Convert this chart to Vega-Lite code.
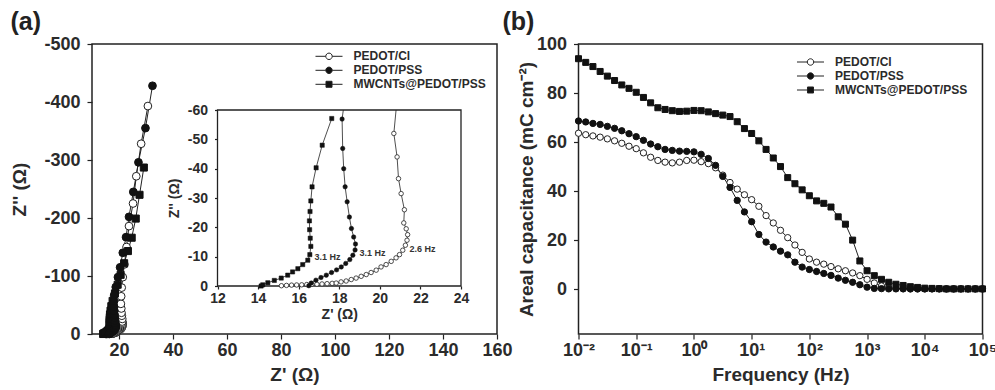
{
  "$schema": "https://vega.github.io/schema/vega-lite/v6.json",
  "autosize": {"type": "pad"},
  "padding": {"left": 9, "top": 9, "right": 0, "bottom": 0},
  "bounds": "flush",
  "spacing": 81.5,
  "resolve": {"scale": {"shape": "independent", "fill": "independent"}, "legend": {"shape": "independent", "fill": "independent"}},
  "datasets": {
    "nyq": [
      {"s":"MWCNTs@PEDOT/PSS","x":14.15,"y":0},{"s":"MWCNTs@PEDOT/PSS","x":14.23,"y":-0.4},{"s":"MWCNTs@PEDOT/PSS","x":14.48,"y":-1.1},{"s":"MWCNTs@PEDOT/PSS","x":14.8,"y":-1.9},{"s":"MWCNTs@PEDOT/PSS","x":15.14,"y":-2.7},{"s":"MWCNTs@PEDOT/PSS","x":15.46,"y":-3.7},{"s":"MWCNTs@PEDOT/PSS","x":15.7,"y":-4.8},{"s":"MWCNTs@PEDOT/PSS","x":15.96,"y":-5.9},{"s":"MWCNTs@PEDOT/PSS","x":16.2,"y":-7.3},{"s":"MWCNTs@PEDOT/PSS","x":16.45,"y":-8.8},{"s":"MWCNTs@PEDOT/PSS","x":16.55,"y":-10.7},{"s":"MWCNTs@PEDOT/PSS","x":16.6,"y":-13.5},{"s":"MWCNTs@PEDOT/PSS","x":16.57,"y":-16.3},{"s":"MWCNTs@PEDOT/PSS","x":16.54,"y":-19.2},{"s":"MWCNTs@PEDOT/PSS","x":16.53,"y":-22.2},{"s":"MWCNTs@PEDOT/PSS","x":16.56,"y":-25.4},{"s":"MWCNTs@PEDOT/PSS","x":16.6,"y":-29.0},{"s":"MWCNTs@PEDOT/PSS","x":16.66,"y":-33.8},{"s":"MWCNTs@PEDOT/PSS","x":16.86,"y":-40.3},{"s":"MWCNTs@PEDOT/PSS","x":17.16,"y":-48.0},{"s":"MWCNTs@PEDOT/PSS","x":17.63,"y":-57.1},{"s":"MWCNTs@PEDOT/PSS","x":18.5,"y":-70},{"s":"MWCNTs@PEDOT/PSS","x":19.5,"y":-85},{"s":"MWCNTs@PEDOT/PSS","x":20.6,"y":-102},{"s":"MWCNTs@PEDOT/PSS","x":21.9,"y":-122},{"s":"MWCNTs@PEDOT/PSS","x":23.3,"y":-143},{"s":"MWCNTs@PEDOT/PSS","x":24.7,"y":-166},{"s":"MWCNTs@PEDOT/PSS","x":26.2,"y":-199},{"s":"MWCNTs@PEDOT/PSS","x":27.6,"y":-240},{"s":"MWCNTs@PEDOT/PSS","x":29.2,"y":-287},
      {"s":"PEDOT/PSS","x":16.5,"y":-0.1},{"s":"PEDOT/PSS","x":16.62,"y":-1.0},{"s":"PEDOT/PSS","x":16.85,"y":-2.0},{"s":"PEDOT/PSS","x":17.1,"y":-2.9},{"s":"PEDOT/PSS","x":17.36,"y":-3.7},{"s":"PEDOT/PSS","x":17.62,"y":-4.6},{"s":"PEDOT/PSS","x":17.87,"y":-5.5},{"s":"PEDOT/PSS","x":18.1,"y":-6.5},{"s":"PEDOT/PSS","x":18.32,"y":-7.7},{"s":"PEDOT/PSS","x":18.52,"y":-9.0},{"s":"PEDOT/PSS","x":18.67,"y":-10.5},{"s":"PEDOT/PSS","x":18.78,"y":-12.3},{"s":"PEDOT/PSS","x":18.8,"y":-14.3},{"s":"PEDOT/PSS","x":18.71,"y":-16.7},{"s":"PEDOT/PSS","x":18.6,"y":-19.6},{"s":"PEDOT/PSS","x":18.5,"y":-23.5},{"s":"PEDOT/PSS","x":18.39,"y":-28.7},{"s":"PEDOT/PSS","x":18.29,"y":-33.8},{"s":"PEDOT/PSS","x":18.22,"y":-40.0},{"s":"PEDOT/PSS","x":18.17,"y":-46.9},{"s":"PEDOT/PSS","x":18.14,"y":-56.9},{"s":"PEDOT/PSS","x":18.2,"y":-67},{"s":"PEDOT/PSS","x":18.8,"y":-81},{"s":"PEDOT/PSS","x":19.6,"y":-98},{"s":"PEDOT/PSS","x":20.4,"y":-115},{"s":"PEDOT/PSS","x":21.4,"y":-140},{"s":"PEDOT/PSS","x":22.6,"y":-167},{"s":"PEDOT/PSS","x":23.7,"y":-202},{"s":"PEDOT/PSS","x":25.3,"y":-245},{"s":"PEDOT/PSS","x":27.2,"y":-296},{"s":"PEDOT/PSS","x":29.8,"y":-355},{"s":"PEDOT/PSS","x":32.4,"y":-428},
      {"s":"PEDOT/Cl","x":15.15,"y":-0.1},{"s":"PEDOT/Cl","x":15.4,"y":-0.2},{"s":"PEDOT/Cl","x":15.65,"y":-0.3},{"s":"PEDOT/Cl","x":15.9,"y":-0.35},{"s":"PEDOT/Cl","x":16.15,"y":-0.4},{"s":"PEDOT/Cl","x":16.4,"y":-0.5},{"s":"PEDOT/Cl","x":16.65,"y":-0.55},{"s":"PEDOT/Cl","x":16.9,"y":-0.6},{"s":"PEDOT/Cl","x":17.15,"y":-0.7},{"s":"PEDOT/Cl","x":17.4,"y":-0.8},{"s":"PEDOT/Cl","x":17.65,"y":-0.9},{"s":"PEDOT/Cl","x":17.85,"y":-1.0},{"s":"PEDOT/Cl","x":18.09,"y":-1.4},{"s":"PEDOT/Cl","x":18.34,"y":-1.7},{"s":"PEDOT/Cl","x":18.59,"y":-2.2},{"s":"PEDOT/Cl","x":18.83,"y":-2.7},{"s":"PEDOT/Cl","x":19.08,"y":-3.3},{"s":"PEDOT/Cl","x":19.33,"y":-3.9},{"s":"PEDOT/Cl","x":19.57,"y":-4.6},{"s":"PEDOT/Cl","x":19.82,"y":-5.4},{"s":"PEDOT/Cl","x":20.06,"y":-6.5},{"s":"PEDOT/Cl","x":20.31,"y":-7.3},{"s":"PEDOT/Cl","x":20.56,"y":-8.4},{"s":"PEDOT/Cl","x":20.8,"y":-9.6},{"s":"PEDOT/Cl","x":20.97,"y":-10.7},{"s":"PEDOT/Cl","x":21.13,"y":-12.2},{"s":"PEDOT/Cl","x":21.26,"y":-13.9},{"s":"PEDOT/Cl","x":21.34,"y":-15.6},{"s":"PEDOT/Cl","x":21.37,"y":-17.5},{"s":"PEDOT/Cl","x":21.3,"y":-19.5},{"s":"PEDOT/Cl","x":21.18,"y":-21.5},{"s":"PEDOT/Cl","x":21.21,"y":-26.0},{"s":"PEDOT/Cl","x":21.05,"y":-31.5},{"s":"PEDOT/Cl","x":20.92,"y":-36.6},{"s":"PEDOT/Cl","x":20.85,"y":-44.0},{"s":"PEDOT/Cl","x":20.69,"y":-52.0},{"s":"PEDOT/Cl","x":20.8,"y":-65},{"s":"PEDOT/Cl","x":21.0,"y":-80},{"s":"PEDOT/Cl","x":21.4,"y":-98},{"s":"PEDOT/Cl","x":22.0,"y":-120},{"s":"PEDOT/Cl","x":22.8,"y":-150},{"s":"PEDOT/Cl","x":23.7,"y":-186},{"s":"PEDOT/Cl","x":25.2,"y":-225},{"s":"PEDOT/Cl","x":26.4,"y":-272},{"s":"PEDOT/Cl","x":28.2,"y":-328},{"s":"PEDOT/Cl","x":30.7,"y":-393}
    ],
    "ann": [
      {"t":"3.1 Hz","x":16.78,"y":-9.9},
      {"t":"3.1 Hz","x":19.0,"y":-11.4},
      {"t":"2.6 Hz","x":21.46,"y":-12.7}
    ],
    "frame": [{"x":12,"x2":24,"y":0,"y2":-60}],
    "cap": [
      {"f":0.01,"PEDOT/Cl":63.6,"PEDOT/PSS":68.6,"MWCNTs@PEDOT/PSS":94.0},
      {"f":0.01334,"PEDOT/Cl":63.0,"PEDOT/PSS":68.2,"MWCNTs@PEDOT/PSS":92.5},
      {"f":0.01778,"PEDOT/Cl":62.5,"PEDOT/PSS":67.6,"MWCNTs@PEDOT/PSS":90.8},
      {"f":0.02371,"PEDOT/Cl":62.0,"PEDOT/PSS":67.2,"MWCNTs@PEDOT/PSS":88.8},
      {"f":0.03162,"PEDOT/Cl":61.3,"PEDOT/PSS":66.4,"MWCNTs@PEDOT/PSS":86.9},
      {"f":0.04217,"PEDOT/Cl":60.5,"PEDOT/PSS":65.6,"MWCNTs@PEDOT/PSS":85.1},
      {"f":0.05623,"PEDOT/Cl":59.5,"PEDOT/PSS":64.6,"MWCNTs@PEDOT/PSS":83.3},
      {"f":0.07499,"PEDOT/Cl":58.3,"PEDOT/PSS":63.4,"MWCNTs@PEDOT/PSS":81.9},
      {"f":0.1,"PEDOT/Cl":57.3,"PEDOT/PSS":62.2,"MWCNTs@PEDOT/PSS":80.3},
      {"f":0.1334,"PEDOT/Cl":55.6,"PEDOT/PSS":60.7,"MWCNTs@PEDOT/PSS":78.2},
      {"f":0.1778,"PEDOT/Cl":53.8,"PEDOT/PSS":59.2,"MWCNTs@PEDOT/PSS":76.0},
      {"f":0.2371,"PEDOT/Cl":52.5,"PEDOT/PSS":58.1,"MWCNTs@PEDOT/PSS":74.0},
      {"f":0.3162,"PEDOT/Cl":51.8,"PEDOT/PSS":57.0,"MWCNTs@PEDOT/PSS":73.3},
      {"f":0.4217,"PEDOT/Cl":51.5,"PEDOT/PSS":56.6,"MWCNTs@PEDOT/PSS":72.8},
      {"f":0.5623,"PEDOT/Cl":51.8,"PEDOT/PSS":56.3,"MWCNTs@PEDOT/PSS":72.5},
      {"f":0.7499,"PEDOT/Cl":52.5,"PEDOT/PSS":56.2,"MWCNTs@PEDOT/PSS":72.6},
      {"f":1,"PEDOT/Cl":52.6,"PEDOT/PSS":56.0,"MWCNTs@PEDOT/PSS":72.9},
      {"f":1.334,"PEDOT/Cl":52.0,"PEDOT/PSS":55.0,"MWCNTs@PEDOT/PSS":72.8},
      {"f":1.778,"PEDOT/Cl":51.2,"PEDOT/PSS":53.3,"MWCNTs@PEDOT/PSS":72.3},
      {"f":2.371,"PEDOT/Cl":49.5,"PEDOT/PSS":50.5,"MWCNTs@PEDOT/PSS":71.6},
      {"f":3.162,"PEDOT/Cl":46.5,"PEDOT/PSS":46.0,"MWCNTs@PEDOT/PSS":71.0},
      {"f":4.217,"PEDOT/Cl":43.5,"PEDOT/PSS":41.5,"MWCNTs@PEDOT/PSS":70.4},
      {"f":5.623,"PEDOT/Cl":40.8,"PEDOT/PSS":36.2,"MWCNTs@PEDOT/PSS":68.3},
      {"f":7.499,"PEDOT/Cl":38.5,"PEDOT/PSS":31.5,"MWCNTs@PEDOT/PSS":65.5},
      {"f":10,"PEDOT/Cl":36.5,"PEDOT/PSS":27.5,"MWCNTs@PEDOT/PSS":63.5},
      {"f":13.34,"PEDOT/Cl":33.8,"PEDOT/PSS":22.3,"MWCNTs@PEDOT/PSS":60.5},
      {"f":17.78,"PEDOT/Cl":30.0,"PEDOT/PSS":19.2,"MWCNTs@PEDOT/PSS":57.0},
      {"f":23.71,"PEDOT/Cl":27.0,"PEDOT/PSS":17.2,"MWCNTs@PEDOT/PSS":53.5},
      {"f":31.62,"PEDOT/Cl":24.0,"PEDOT/PSS":15.5,"MWCNTs@PEDOT/PSS":50.0},
      {"f":42.17,"PEDOT/Cl":21.0,"PEDOT/PSS":14.0,"MWCNTs@PEDOT/PSS":45.5},
      {"f":56.23,"PEDOT/Cl":18.0,"PEDOT/PSS":11.0,"MWCNTs@PEDOT/PSS":43.0},
      {"f":74.99,"PEDOT/Cl":15.0,"PEDOT/PSS":9.0,"MWCNTs@PEDOT/PSS":40.5},
      {"f":100,"PEDOT/Cl":12.3,"PEDOT/PSS":8.0,"MWCNTs@PEDOT/PSS":38.1},
      {"f":133.4,"PEDOT/Cl":11.0,"PEDOT/PSS":7.2,"MWCNTs@PEDOT/PSS":36.0},
      {"f":177.8,"PEDOT/Cl":10.2,"PEDOT/PSS":6.4,"MWCNTs@PEDOT/PSS":35.0},
      {"f":237.1,"PEDOT/Cl":9.2,"PEDOT/PSS":5.6,"MWCNTs@PEDOT/PSS":33.5},
      {"f":316.2,"PEDOT/Cl":8.3,"PEDOT/PSS":4.5,"MWCNTs@PEDOT/PSS":29.5},
      {"f":421.7,"PEDOT/Cl":7.5,"PEDOT/PSS":3.6,"MWCNTs@PEDOT/PSS":26.5},
      {"f":562.3,"PEDOT/Cl":6.6,"PEDOT/PSS":2.8,"MWCNTs@PEDOT/PSS":20.0},
      {"f":749.9,"PEDOT/Cl":5.5,"PEDOT/PSS":1.8,"MWCNTs@PEDOT/PSS":11.5},
      {"f":1000,"PEDOT/Cl":4.0,"PEDOT/PSS":0.8,"MWCNTs@PEDOT/PSS":7.5},
      {"f":1334,"PEDOT/Cl":2.5,"PEDOT/PSS":0.3,"MWCNTs@PEDOT/PSS":5.5},
      {"f":1778,"PEDOT/Cl":1.3,"PEDOT/PSS":0.2,"MWCNTs@PEDOT/PSS":4.0},
      {"f":2371,"PEDOT/Cl":0.6,"PEDOT/PSS":0.1,"MWCNTs@PEDOT/PSS":2.8},
      {"f":3162,"PEDOT/Cl":0.3,"PEDOT/PSS":0.1,"MWCNTs@PEDOT/PSS":2.0},
      {"f":4217,"PEDOT/Cl":0.2,"PEDOT/PSS":0.1,"MWCNTs@PEDOT/PSS":1.5},
      {"f":5623,"PEDOT/Cl":0.1,"PEDOT/PSS":0.1,"MWCNTs@PEDOT/PSS":1.0},
      {"f":7499,"PEDOT/Cl":0.1,"PEDOT/PSS":0.1,"MWCNTs@PEDOT/PSS":0.7},
      {"f":10000,"PEDOT/Cl":0.1,"PEDOT/PSS":0.1,"MWCNTs@PEDOT/PSS":0.4},
      {"f":13340,"PEDOT/Cl":0.1,"PEDOT/PSS":0.1,"MWCNTs@PEDOT/PSS":0.3},
      {"f":17780,"PEDOT/Cl":0.1,"PEDOT/PSS":0.1,"MWCNTs@PEDOT/PSS":0.2},
      {"f":23710,"PEDOT/Cl":0.1,"PEDOT/PSS":0.1,"MWCNTs@PEDOT/PSS":0.1},
      {"f":31620,"PEDOT/Cl":0.1,"PEDOT/PSS":0.1,"MWCNTs@PEDOT/PSS":0.1},
      {"f":42170,"PEDOT/Cl":0.1,"PEDOT/PSS":0.1,"MWCNTs@PEDOT/PSS":0.1},
      {"f":56230,"PEDOT/Cl":0.1,"PEDOT/PSS":0.1,"MWCNTs@PEDOT/PSS":0.1},
      {"f":74990,"PEDOT/Cl":0.1,"PEDOT/PSS":0.1,"MWCNTs@PEDOT/PSS":0.1},
      {"f":100000,"PEDOT/Cl":0.1,"PEDOT/PSS":0.1,"MWCNTs@PEDOT/PSS":0.1}
    ]
  },
  "hconcat": [
    {
      "width": 405,
      "height": 290,
      "title": {"text": "(a)", "anchor": "start", "frame": "group", "fontSize": 25, "fontWeight": "bold", "color": "#222", "dx": -81.5, "dy": 32, "offset": 12, "baseline": "alphabetic"},
      "layer": [
        {
          "data": {"name": "nyq"},
          "encoding": {
            "x": {"field": "x", "type": "quantitative", "scale": {"domain": [10, 160], "nice": false, "zero": false}, "axis": {"orient": "bottom", "values": [20, 40, 60, 80, 100, 120, 140, 160], "labelFlush": false, "title": "Z' (Ω)", "labelPadding": 2, "titlePadding": 6}},
            "y": {"field": "y", "type": "quantitative", "scale": {"domain": [0, -500], "nice": false, "zero": false}, "axis": {"orient": "left", "values": [0, -100, -200, -300, -400, -500], "labelFlush": false, "labelExpr": "replace(datum.label, '−', '-')", "title": "Z'' (Ω)", "labelPadding": 7, "titlePadding": 14}}
          },
          "layer": [
            {"mark": {"type": "line", "color": "#222", "strokeWidth": 1}, "encoding": {"detail": {"field": "s"}, "order": {"value": null}}},
            {"transform": [{"filter": "datum.s === 'PEDOT/Cl'"}], "mark": {"type": "point", "shape": "circle", "filled": true, "fill": "white", "stroke": "#222", "strokeWidth": 1, "size": 60, "opacity": 1}},
            {"transform": [{"filter": "datum.s === 'MWCNTs@PEDOT/PSS'"}], "mark": {"type": "point", "shape": "square", "filled": true, "fill": "#111", "stroke": "#111", "strokeWidth": 1, "size": 50, "opacity": 1}},
            {"transform": [{"filter": "datum.s === 'PEDOT/PSS'"}], "mark": {"type": "point", "shape": "circle", "filled": true, "fill": "#111", "stroke": "#111", "strokeWidth": 1, "size": 60, "opacity": 1}},
            {
              "transform": [{"filter": "false"}],
              "mark": {"type": "point", "filled": true, "stroke": "#222", "strokeWidth": 1, "size": 196},
              "encoding": {
                "shape": {"field": "s", "type": "nominal", "scale": {"domain": ["PEDOT/Cl", "PEDOT/PSS", "MWCNTs@PEDOT/PSS"], "range": ["M-1.93,0L-0.46,0M0.46,0L1.93,0M-0.46,0A0.46,0.46,0,1,0,0.46,0A0.46,0.46,0,1,0,-0.46,0Z", "M-1.93,0L-0.46,0M0.46,0L1.93,0M-0.46,0A0.46,0.46,0,1,0,0.46,0A0.46,0.46,0,1,0,-0.46,0Z", "M-1.93,0L-0.43,0M0.43,0L1.93,0M-0.43,-0.43L0.43,-0.43L0.43,0.43L-0.43,0.43Z"]}, "legend": {"title": null, "orient": "none", "legendX": 229.5, "legendY": 4.8, "symbolOpacity": 1}},
                "fill": {"field": "s", "type": "nominal", "scale": {"domain": ["PEDOT/Cl", "PEDOT/PSS", "MWCNTs@PEDOT/PSS"], "range": ["white", "#111", "#111"]}, "legend": {"title": null, "orient": "none", "legendX": 229.5, "legendY": 4.8, "symbolOpacity": 1}}
              }
            }
          ]
        },
        {
          "data": {"name": "nyq"},
          "encoding": {
            "x": {"field": "x", "type": "quantitative", "scale": {"domain": [12, 24], "range": [125.5, 369], "nice": false, "zero": false, "clamp": true}, "axis": {"orient": "bottom", "offset": -48, "values": [12, 14, 16, 18, 20, 22, 24], "labelFlush": false, "title": "Z' (Ω)", "labelFontSize": 14, "titleFontSize": 14, "tickSize": 3, "labelPadding": 2, "titlePadding": 2}},
            "y": {"field": "y", "type": "quantitative", "scale": {"domain": [0, -60], "range": [242, 66], "nice": false, "zero": false, "clamp": true}, "axis": {"orient": "left", "offset": -125.5, "values": [0, -10, -20, -30, -40, -50, -60], "labelFlush": false, "labelExpr": "replace(datum.label, '−', '-')", "title": "Z'' (Ω)", "labelFontSize": 14, "titleFontSize": 14, "tickSize": 3, "labelPadding": 7, "titlePadding": 6}}
          },
          "layer": [
            {"data": {"name": "frame"}, "mark": {"type": "rect", "fill": "white", "stroke": "#222", "strokeWidth": 1.3}, "encoding": {"x2": {"field": "x2"}, "y2": {"field": "y2"}}},
            {"transform": [{"filter": "datum.y >= -68"}], "mark": {"type": "line", "color": "#222", "strokeWidth": 0.8}, "encoding": {"detail": {"field": "s"}, "order": {"value": null}}},
            {"transform": [{"filter": "datum.y >= -60 && datum.s === 'PEDOT/Cl'"}], "mark": {"type": "point", "shape": "circle", "filled": true, "fill": "white", "stroke": "#222", "strokeWidth": 0.8, "size": 20, "opacity": 1}},
            {"transform": [{"filter": "datum.y >= -60 && datum.s === 'MWCNTs@PEDOT/PSS'"}], "mark": {"type": "point", "shape": "square", "filled": true, "fill": "#111", "stroke": "#111", "strokeWidth": 0.5, "size": 18, "opacity": 1}},
            {"transform": [{"filter": "datum.y >= -60 && datum.s === 'PEDOT/PSS'"}], "mark": {"type": "point", "shape": "circle", "filled": true, "fill": "#111", "stroke": "#111", "strokeWidth": 0.5, "size": 20, "opacity": 1}},
            {"data": {"name": "ann"}, "mark": {"type": "text", "align": "left", "baseline": "middle", "fontSize": 9, "fontWeight": "bold", "color": "#333"}, "encoding": {"text": {"field": "t"}}}
          ]
        }
      ],
      "resolve": {"scale": {"x": "independent", "y": "independent"}, "axis": {"x": "independent", "y": "independent"}}
    },
    {
      "width": 404,
      "height": 290,
      "title": {"text": "(b)", "anchor": "start", "frame": "group", "fontSize": 25, "fontWeight": "bold", "color": "#222", "dx": -76, "dy": 32, "offset": 12, "baseline": "alphabetic"},
      "data": {"name": "cap"},
      "transform": [{"fold": ["PEDOT/Cl", "PEDOT/PSS", "MWCNTs@PEDOT/PSS"], "as": ["s", "c"]}],
      "encoding": {
        "x": {"field": "f", "type": "quantitative", "scale": {"type": "log", "domain": [0.01, 100000], "nice": false}, "axis": {"orient": "bottom", "values": [0.01, 0.1, 1, 10, 100, 1000, 10000, 100000], "labelFlush": false, "labelExpr": "['10⁻²','10⁻¹','10⁰','10¹','10²','10³','10⁴','10⁵'][round(log(datum.value)/LN10)+2]", "title": "Frequency (Hz)", "labelPadding": 2, "titlePadding": 6}},
        "y": {"field": "c", "type": "quantitative", "scale": {"domain": [-18.3, 100], "nice": false, "zero": false}, "axis": {"orient": "left", "values": [0, 20, 40, 60, 80, 100], "labelFlush": false, "title": "Areal capacitance (mC cm⁻²)", "labelPadding": 7, "titlePadding": 0}}
      },
      "layer": [
        {"mark": {"type": "line", "color": "#222", "strokeWidth": 1}, "encoding": {"detail": {"field": "s"}, "order": {"value": null}}},
        {"transform": [{"filter": "datum.s === 'PEDOT/Cl'"}], "mark": {"type": "point", "shape": "circle", "filled": true, "fill": "white", "stroke": "#222", "strokeWidth": 1, "size": 40, "opacity": 1}},
        {"transform": [{"filter": "datum.s === 'PEDOT/PSS'"}], "mark": {"type": "point", "shape": "circle", "filled": true, "fill": "#111", "stroke": "#111", "strokeWidth": 1, "size": 40, "opacity": 1}},
        {"transform": [{"filter": "datum.s === 'MWCNTs@PEDOT/PSS'"}], "mark": {"type": "point", "shape": "square", "filled": true, "fill": "#111", "stroke": "#111", "strokeWidth": 1, "size": 36, "opacity": 1}},
        {
          "transform": [{"filter": "false"}],
          "mark": {"type": "point", "filled": true, "stroke": "#222", "strokeWidth": 1, "size": 196},
          "encoding": {
            "shape": {"field": "s", "type": "nominal", "scale": {"domain": ["PEDOT/Cl", "PEDOT/PSS", "MWCNTs@PEDOT/PSS"], "range": ["M-1.93,0L-0.46,0M0.46,0L1.93,0M-0.46,0A0.46,0.46,0,1,0,0.46,0A0.46,0.46,0,1,0,-0.46,0Z", "M-1.93,0L-0.46,0M0.46,0L1.93,0M-0.46,0A0.46,0.46,0,1,0,0.46,0A0.46,0.46,0,1,0,-0.46,0Z", "M-1.93,0L-0.43,0M0.43,0L1.93,0M-0.43,-0.43L0.43,-0.43L0.43,0.43L-0.43,0.43Z"]}, "legend": {"title": null, "orient": "none", "legendX": 224.5, "legendY": 10.5, "symbolOpacity": 1}},
            "fill": {"field": "s", "type": "nominal", "scale": {"domain": ["PEDOT/Cl", "PEDOT/PSS", "MWCNTs@PEDOT/PSS"], "range": ["white", "#111", "#111"]}, "legend": {"title": null, "orient": "none", "legendX": 224.5, "legendY": 10.5, "symbolOpacity": 1}}
          }
        }
      ]
    }
  ],
  "config": {
    "font": "Liberation Sans",
    "view": {"stroke": "#222", "strokeWidth": 1.5},
    "axis": {"domain": false, "grid": false, "ticks": true, "tickColor": "#222", "tickWidth": 1.2, "tickSize": 5, "labelFont": "Liberation Sans", "titleFont": "Liberation Sans", "labelFontWeight": "bold", "labelColor": "#2b2b2b", "titleFontWeight": "bold", "titleColor": "#2b2b2b", "labelFontSize": 18, "titleFontSize": 19},
    "legend": {"labelFont": "Liberation Sans", "labelFontSize": 12, "labelFontWeight": "bold", "labelColor": "#2b2b2b", "padding": 0, "symbolOffset": 0, "labelOffset": 17, "rowPadding": -1, "symbolSize": 196, "symbolStrokeWidth": 1}
  }
}
